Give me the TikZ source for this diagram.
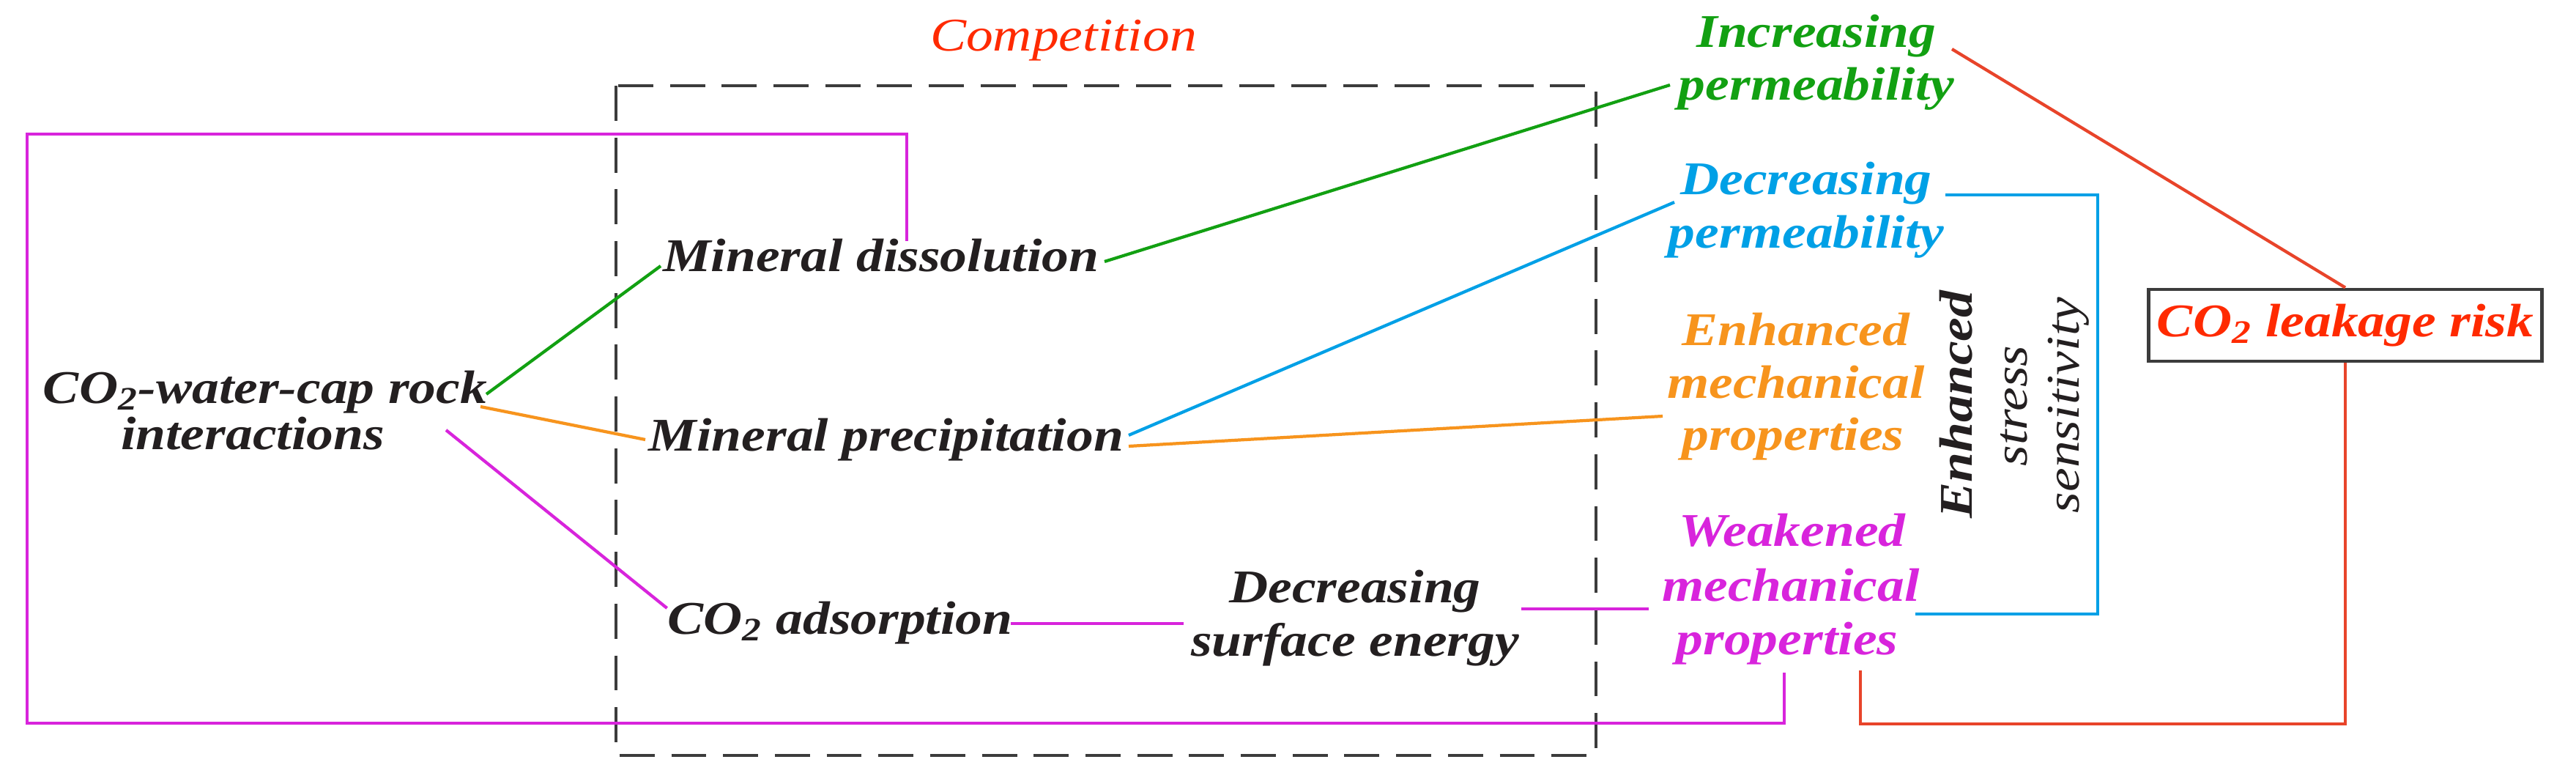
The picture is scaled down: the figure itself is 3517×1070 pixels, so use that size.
\documentclass[tikz,border=0pt]{standalone}
\usepackage{fontspec}
\setmainfont{Liberation Serif}[FakeStretch=1.15]
\definecolor{ink}{HTML}{231F20}
\definecolor{grn}{HTML}{12A012}
\definecolor{blu}{HTML}{00A0E6}
\definecolor{org}{HTML}{F7941D}
\definecolor{mag}{HTML}{D824DC}
\definecolor{redt}{HTML}{FF2A00}
\definecolor{redl}{HTML}{E8442A}
\definecolor{dashc}{HTML}{3C3C3C}
\begin{document}
\begin{tikzpicture}[x=0.01cm,y=-0.01cm,
  lbl/.style={font=\fontsize{18.2}{21}\selectfont\bfseries\itshape, inner sep=0pt, anchor=base, text=ink},
  lblr/.style={lbl, font=\fontsize{18.2}{21}\selectfont\itshape},
  conn/.style={line width=1.2pt},
  dashbox/.style={draw=dashc, line width=1.1pt, dash pattern=on 13.6pt off 6.5pt},
  riskbox/.style={draw=dashc, line width=1.4pt, minimum width=5.36cm, minimum height=0.98cm, inner sep=0pt,
     font=\fontsize{18.2}{21}\selectfont\bfseries\itshape, text=redt}]
\useasboundingbox (0,0) rectangle (3517,1070);
\fill[white] (0,0) rectangle (3517,1070);

% dashed competition box
\draw[dashbox] (841,117) rectangle (2179,1031);

% texts
\node[lblr, text=redt] (comp) at (1452,70) {Competition};
\node[lbl] (cw1) at (362,550) {CO\textsubscript{2}-water-cap rock};
\node[lbl] (cw2) at (345,613) {interactions};
\node[lbl] (md) at (1203,370) {Mineral dissolution};
\node[lbl] (mp) at (1210,615) {Mineral precipitation};
\node[lbl] (ca) at (1147,865) {CO\textsubscript{2} adsorption};
\node[lbl] (ds1) at (1850,822) {Decreasing};
\node[lbl] (ds2) at (1850,895) {surface energy};
\node[lbl, text=grn] (ip1) at (2480,65) {Increasing};
\node[lbl, text=grn] (ip2) at (2480,137) {permeability};
\node[lbl, text=blu] (dp1) at (2466,266) {Decreasing};
\node[lbl, text=blu] (dp2) at (2466,338) {permeability};
\node[lbl, text=org] (em1) at (2452,471) {Enhanced};
\node[lbl, text=org] (em2) at (2452,543) {mechanical};
\node[lbl, text=org] (em3) at (2448,614) {properties};
\node[lbl, text=mag] (wm1) at (2447,745) {Weakened};
\node[lbl, text=mag] (wm2) at (2445,820) {mechanical};
\node[lbl, text=mag] (wm3) at (2440,893) {properties};
\node[lbl, rotate=90] (es1) at (2692,552) {Enhanced};
\node[lblr, rotate=90] (es2) at (2767,554) {stress};
\node[lblr, rotate=90] (es3) at (2838,553) {sensitivity};
\node[riskbox] (risk) at (3202,444) {CO\textsubscript{2} leakage risk};

% connector end points
\coordinate (cwG) at (664,538);
\coordinate (cwO) at (656,555);
\coordinate (cwM) at (609,587);
\coordinate (mdL) at (902,363);
\coordinate (mdR) at (1508,357);
\coordinate (mpL) at (881,600);
\coordinate (mpRb) at (1541,594);
\coordinate (mpRo) at (1541,609);
\coordinate (caR) at (1380,851);
\coordinate (dsL) at (1616,851);
\coordinate (dsR) at (2077,831);
\coordinate (wmL) at (2251,831);
\coordinate (ipL) at (2280,116);
\coordinate (ipR) at (2665,67);
\coordinate (dpL) at (2286,276);
\coordinate (dpR) at (2656,266);
\coordinate (emL) at (2270,568);
\coordinate (wmR) at (2615,838);
\coordinate (wmB) at (2436,918);
\coordinate (wmB2) at (2540,915);
\coordinate (mdT) at (1238,329);

% green
\draw[conn, grn] (cwG) -- (mdL);
\draw[conn, grn] (mdR) -- (ipL);
% orange
\draw[conn, org] (cwO) -- (mpL);
\draw[conn, org] (mpRo) -- (emL);
% blue
\draw[conn, blu] (mpRb) -- (dpL);
\draw[conn, blu] (dpR) -- (2864,266) -- (2864,838) -- (wmR);
% magenta
\draw[conn, mag] (cwM) -- (ca.west |- 0,830);
\draw[conn, mag] (caR) -- (dsL);
\draw[conn, mag] (dsR) -- (wmL);
\draw[conn, mag, line width=1.4pt] (mdT) -- (1238,183) -- (37,183) -- (37,987) -- (2436,987) -- (wmB);
% red
\draw[conn, redl] (ipR) -- (risk.north);
\draw[conn, redl] (risk.south) -- (risk.south |- 0,988) -- (2540,988) -- (wmB2);
\end{tikzpicture}
\end{document}
